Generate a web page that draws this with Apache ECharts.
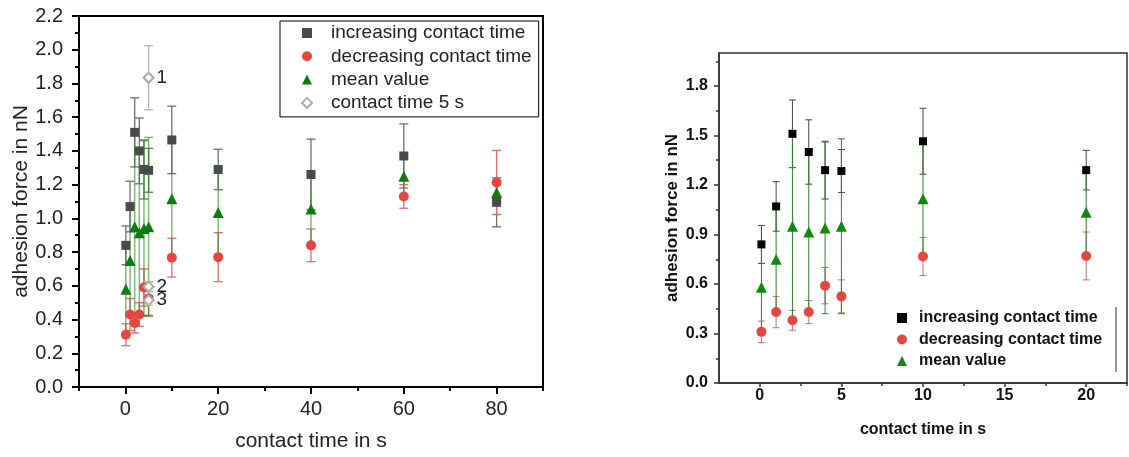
<!DOCTYPE html>
<html>
<head>
<meta charset="utf-8">
<script src="https://cdn.jsdelivr.net/npm/echarts@6/dist/echarts.min.js"></script>
<style>
html,body{margin:0;padding:0;background:#fff;}
#chart{width:1129px;height:457px;}
</style>
</head>
<body>
<div id="chart"></div>
<script>
// ---------- data ----------
const contactTime    = [0.1, 1, 2, 3, 4, 5, 10, 20, 40, 60, 80];
const increasingVal  = [0.84, 1.07, 1.51, 1.40, 1.29, 1.285, 1.465, 1.29, 1.26, 1.37, 1.095];
const increasingErr  = [0.115, 0.15, 0.205, 0.195, 0.175, 0.13, 0.2, 0.12, 0.21, 0.19, 0.145];
const decreasingVal  = [0.31, 0.43, 0.38, 0.43, 0.59, 0.525, 0.767, 0.77, 0.84, 1.13, 1.213];
const decreasingErr  = [0.065, 0.095, 0.06, 0.07, 0.11, 0.1, 0.115, 0.145, 0.097, 0.07, 0.19];
const meanVal        = [0.58, 0.75, 0.95, 0.915, 0.94, 0.95, 1.117, 1.035, 1.055, 1.25, 1.154];
const meanErr        = [0.27, 0.33, 0.57, 0.49, 0.52, 0.53, 0.35, 0.26, 0.21, 0.12, 0.06];
const fiveSecTime    = [5, 5, 5];
const fiveSecVal     = [1.834, 0.595, 0.515];
const fiveSecErr     = [0.19, 0.03, 0.03];
const fiveSecLabels  = ['1', '2', '3'];
const rightMaxTime   = 20;

const seriesNames = ['increasing contact time', 'decreasing contact time', 'mean value', 'contact time 5 s'];

const leftXTicks  = [0, 20, 40, 60, 80];
const leftXMinor  = [-10, 10, 30, 50, 70, 90];
const rightXTicks = [0, 5, 10, 15, 20];
const rightXMinor = [2.5, 7.5, 12.5, 17.5, 22.5];
const rightYTicks = [0, 0.3, 0.6, 0.9, 1.2, 1.5, 1.8];
const rightYMinor = [0.15, 0.45, 0.75, 1.05, 1.35, 1.65, 1.95];

// ---------- helpers ----------
const FF = "'Liberation Sans', Arial, sans-serif";

function pts(xs, vs, maxX) {
  const out = [];
  xs.forEach((x, i) => { if (maxX == null || x <= maxX) out.push([x, vs[i]]); });
  return out;
}
function errs(xs, vs, es, maxX) {
  const out = [];
  xs.forEach((x, i) => { if (maxX == null || x <= maxX) out.push([x, vs[i] - es[i], vs[i] + es[i]]); });
  return out;
}
function errRender(capW, color, lw) {
  return function (params, api) {
    const x = api.value(0), lo = api.value(1), hi = api.value(2);
    const a = api.coord([x, hi]), b = api.coord([x, lo]);
    const st = { stroke: color, lineWidth: lw };
    return {
      type: 'group',
      children: [
        { type: 'line', shape: { x1: a[0], y1: a[1], x2: b[0], y2: b[1] }, style: st },
        { type: 'line', shape: { x1: a[0] - capW / 2, y1: a[1], x2: a[0] + capW / 2, y2: a[1] }, style: st },
        { type: 'line', shape: { x1: b[0] - capW / 2, y1: b[1], x2: b[0] + capW / 2, y2: b[1] }, style: st }
      ]
    };
  };
}
function errSeries(idx, data, capW, color, lw) {
  return { type: 'custom', xAxisIndex: idx * 2, yAxisIndex: idx * 2, data: data,
           renderItem: errRender(capW, color, lw), silent: true, z: 2 };
}

const chart = echarts.init(document.getElementById('chart'), null, { renderer: 'canvas' });

const leftCol  = { inc: '#4a4a4a', dec: '#e8453f', mean: '#0c7d0c', five: '#ababab' };
const rightCol = { inc: '#000000', dec: '#e5473f', mean: '#128a12' };

const option = {
  animation: false,
  backgroundColor: '#fff',
  textStyle: { fontFamily: FF },
  grid: [
    { left: 79, top: 16, width: 464, height: 374, show: true, borderColor: '#000', borderWidth: 2 },
    { left: 719, top: 53, width: 408, height: 330, show: true, borderColor: '#333', borderWidth: 1.5 }
  ],
  xAxis: [
    { gridIndex: 0, type: 'value', min: -10, max: 90,
      axisLine: { show: true, onZero: false, lineStyle: { color: '#000', width: 2 } },
      axisTick: { show: true, customValues: leftXTicks, length: 7, lineStyle: { color: '#000', width: 2 } },
      axisLabel: { customValues: leftXTicks, fontSize: 20, color: '#222', margin: 12, fontFamily: FF },
      splitLine: { show: false },
      name: 'contact time in s', nameLocation: 'middle', nameGap: 44,
      nameTextStyle: { fontSize: 21, color: '#222', fontFamily: FF } },
    { gridIndex: 0, type: 'value', min: -10, max: 90, position: 'bottom',
      axisLine: { show: false, onZero: false },
      axisTick: { show: true, customValues: leftXMinor, length: 4, lineStyle: { color: '#000', width: 2 } },
      axisLabel: { show: false }, splitLine: { show: false } },
    { gridIndex: 1, type: 'value', min: -2.5, max: 22.5,
      axisLine: { show: true, onZero: false, lineStyle: { color: '#333', width: 1.5 } },
      axisTick: { show: true, customValues: rightXTicks, length: 4, lineStyle: { color: '#333', width: 1.5 } },
      axisLabel: { customValues: rightXTicks, fontSize: 16, fontWeight: 'bold', color: '#111', margin: 5, fontFamily: FF },
      splitLine: { show: false },
      name: 'contact time in s', nameLocation: 'middle', nameGap: 39,
      nameTextStyle: { fontSize: 16, fontWeight: 'bold', color: '#111', fontFamily: FF } },
    { gridIndex: 1, type: 'value', min: -2.5, max: 22.5, position: 'bottom',
      axisLine: { show: false, onZero: false },
      axisTick: { show: true, customValues: rightXMinor, length: 3, lineStyle: { color: '#333', width: 1.5 } },
      axisLabel: { show: false }, splitLine: { show: false } }
  ],
  yAxis: [
    { gridIndex: 0, type: 'value', min: 0, max: 2.2, interval: 0.2,
      axisLine: { show: true, onZero: false, lineStyle: { color: '#000', width: 2 } },
      axisTick: { show: true, length: 7, lineStyle: { color: '#000', width: 2 } },
      minorTick: { show: true, splitNumber: 2, length: 4, lineStyle: { color: '#000', width: 2 } },
      axisLabel: { fontSize: 20, color: '#222', margin: 16, fontFamily: FF, formatter: v => v.toFixed(1) },
      splitLine: { show: false },
      name: 'adhesion force in nN', nameLocation: 'middle', nameGap: 46,
      nameTextStyle: { fontSize: 21, color: '#222', fontFamily: FF } },
    { gridIndex: 0, type: 'value', min: 0, max: 2.2, show: false, axisLine: { onZero: false } },
    { gridIndex: 1, type: 'value', min: 0, max: 2.0,
      axisLine: { show: true, onZero: false, lineStyle: { color: '#333', width: 1.5 } },
      axisTick: { show: true, customValues: rightYTicks, length: 5, lineStyle: { color: '#333', width: 1.5 } },
      axisLabel: { customValues: rightYTicks, fontSize: 16, fontWeight: 'bold', color: '#111', margin: 11, fontFamily: FF,
                   formatter: v => v.toFixed(1) },
      splitLine: { show: false },
      name: 'adhesion force in nN', nameLocation: 'middle', nameGap: 38,
      nameTextStyle: { fontSize: 17, fontWeight: 'bold', color: '#111', fontFamily: FF } },
    { gridIndex: 1, type: 'value', min: 0, max: 2.0, position: 'left',
      axisLine: { show: false, onZero: false },
      axisTick: { show: true, customValues: rightYMinor, length: 3, lineStyle: { color: '#333', width: 1.5 } },
      axisLabel: { show: false }, splitLine: { show: false } }
  ],
  legend: [
    { orient: 'vertical', left: 280, top: 21, itemWidth: 10, itemHeight: 10, itemGap: 3.3,
      padding: [2, 7, 4, 21], borderColor: '#000', borderWidth: 1, selectedMode: false,
      textStyle: { fontSize: 19, color: '#222', fontFamily: FF, lineHeight: 20, padding: [0, 0, 0, 14] },
      data: [
        { name: seriesNames[0], icon: 'rect', itemStyle: { color: leftCol.inc } },
        { name: seriesNames[1], icon: 'circle', itemStyle: { color: leftCol.dec } },
        { name: seriesNames[2], icon: 'triangle', itemStyle: { color: leftCol.mean } },
        { name: seriesNames[3], icon: 'emptyDiamond', itemStyle: { color: leftCol.five } }
      ] },
    { orient: 'vertical', left: 897, top: 309, itemWidth: 10, itemHeight: 10, itemGap: 3.5,
      padding: 0, selectedMode: false,
      textStyle: { fontSize: 16, fontWeight: 'bold', color: '#111', fontFamily: FF, lineHeight: 18, padding: [0, 0, 0, 7] },
      data: [
        { name: seriesNames[0], icon: 'rect', itemStyle: { color: rightCol.inc } },
        { name: seriesNames[1], icon: 'circle', itemStyle: { color: rightCol.dec } },
        { name: seriesNames[2], icon: 'triangle', itemStyle: { color: rightCol.mean } }
      ] }
  ],
  graphic: [
    { type: 'line', shape: { x1: 1116, y1: 307, x2: 1116, y2: 372 }, style: { stroke: '#333', lineWidth: 1 } }
  ],
  series: [
    // ----- left chart -----
    errSeries(0, errs(contactTime, increasingVal, increasingErr), 9, '#6f6f6f', 1.3),
    errSeries(0, errs(contactTime, decreasingVal, decreasingErr), 9, '#e36a6a', 1.3),
    { type: 'scatter', name: seriesNames[0], xAxisIndex: 0, yAxisIndex: 0, symbol: 'rect', symbolSize: 9,
      itemStyle: { color: leftCol.inc, opacity: 1 }, data: pts(contactTime, increasingVal), z: 3 },
    { type: 'scatter', name: seriesNames[1], xAxisIndex: 0, yAxisIndex: 0, symbol: 'circle', symbolSize: 10,
      itemStyle: { color: leftCol.dec, opacity: 1 }, data: pts(contactTime, decreasingVal), z: 3 },
    errSeries(0, errs(contactTime, meanVal, meanErr), 9, 'rgba(40,140,40,0.6)', 1.5),
    { type: 'scatter', name: seriesNames[2], xAxisIndex: 0, yAxisIndex: 0, symbol: 'triangle', symbolSize: 11,
      itemStyle: { color: leftCol.mean, opacity: 1 }, data: pts(contactTime, meanVal), z: 4 },
    errSeries(0, errs(fiveSecTime, fiveSecVal, fiveSecErr), 9, '#b5b5b5', 1.3),
    { type: 'scatter', name: seriesNames[3], xAxisIndex: 0, yAxisIndex: 0, symbol: 'emptyDiamond', symbolSize: 10,
      itemStyle: { color: leftCol.five, borderColor: leftCol.five, borderWidth: 1.5, opacity: 1 },
      data: pts(fiveSecTime, fiveSecVal), z: 5,
      label: { show: true, position: 'right', distance: 2, fontSize: 19, color: '#222', fontFamily: FF,
               formatter: p => fiveSecLabels[p.dataIndex] } },
    // ----- right chart -----
    errSeries(1, errs(contactTime, increasingVal, increasingErr, rightMaxTime), 7, '#444', 1),
    errSeries(1, errs(contactTime, decreasingVal, decreasingErr, rightMaxTime), 7, '#c97070', 1),
    errSeries(1, errs(contactTime, meanVal, meanErr, rightMaxTime), 7, '#2f7f2f', 1),
    { type: 'scatter', name: seriesNames[0], xAxisIndex: 2, yAxisIndex: 2, symbol: 'rect', symbolSize: 8,
      itemStyle: { color: rightCol.inc, opacity: 1 }, data: pts(contactTime, increasingVal, rightMaxTime), z: 3 },
    { type: 'scatter', name: seriesNames[1], xAxisIndex: 2, yAxisIndex: 2, symbol: 'circle', symbolSize: 10,
      itemStyle: { color: rightCol.dec, opacity: 1 }, data: pts(contactTime, decreasingVal, rightMaxTime), z: 3 },
    { type: 'scatter', name: seriesNames[2], xAxisIndex: 2, yAxisIndex: 2, symbol: 'triangle', symbolSize: 11,
      itemStyle: { color: rightCol.mean, opacity: 1 }, data: pts(contactTime, meanVal, rightMaxTime), z: 4 }
  ]
};
chart.setOption(option);
</script>
</body>
</html>
